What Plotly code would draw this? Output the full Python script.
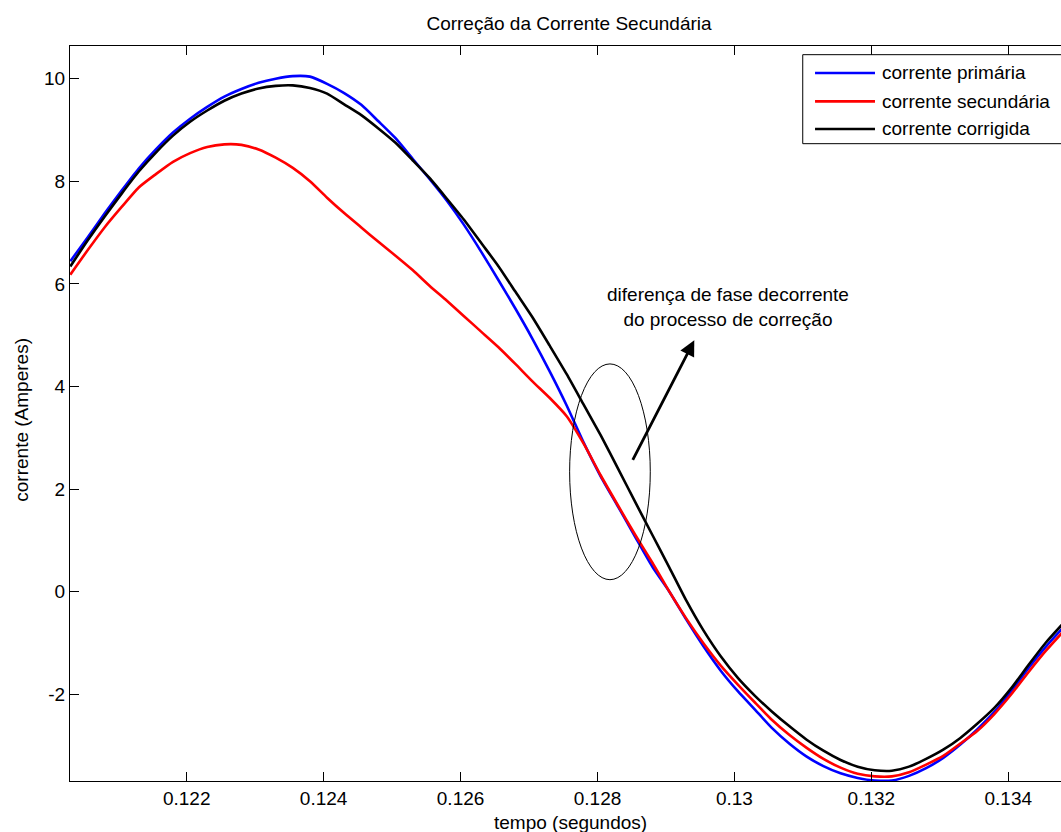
import plotly.graph_objects as go

# Sample instants (s)
tempo = [
    0.12030, 0.12055, 0.12080, 0.12105, 0.12130, 0.12155, 0.12180, 0.12205, 0.12230, 0.12255,
    0.12280, 0.12305, 0.12330, 0.12355, 0.12380, 0.12405, 0.12430, 0.12455, 0.12480, 0.12505,
    0.12530, 0.12555, 0.12580, 0.12605, 0.12630, 0.12655, 0.12680, 0.12705, 0.12730, 0.12755,
    0.12780, 0.12805, 0.12830, 0.12855, 0.12880, 0.12905, 0.12930, 0.12955, 0.12980, 0.13005,
    0.13030, 0.13055, 0.13080, 0.13105, 0.13130, 0.13155, 0.13180, 0.13205, 0.13230, 0.13255,
    0.13280, 0.13305, 0.13330, 0.13355, 0.13380, 0.13405, 0.13430, 0.13455, 0.13480,
]

# Currents (A)
corrente_primaria = [
    6.44, 6.90, 7.37, 7.82, 8.25, 8.62, 8.95, 9.22, 9.45, 9.65,
    9.80, 9.92, 10.00, 10.05, 10.04, 9.90, 9.72, 9.49, 9.17, 8.84,
    8.44, 8.04, 7.62, 7.15, 6.63, 6.08, 5.52, 4.93, 4.30, 3.63,
    2.90, 2.24, 1.66, 1.07, 0.49, 0.00, -0.55, -1.07, -1.54, -1.94,
    -2.30, -2.66, -2.96, -3.21, -3.40, -3.54, -3.63, -3.68, -3.68, -3.59,
    -3.44, -3.24, -2.98, -2.68, -2.34, -1.93, -1.48, -1.07, -0.70,
]

corrente_secundaria = [
    6.18, 6.65, 7.10, 7.50, 7.88, 8.14, 8.38, 8.55, 8.67, 8.72,
    8.71, 8.62, 8.46, 8.26, 8.00, 7.68, 7.38, 7.10, 6.82, 6.55,
    6.27, 5.96, 5.67, 5.37, 5.07, 4.77, 4.44, 4.10, 3.78, 3.42,
    2.88, 2.26, 1.68, 1.11, 0.57, 0.00, -0.53, -1.01, -1.44, -1.81,
    -2.16, -2.50, -2.79, -3.04, -3.26, -3.43, -3.55, -3.60, -3.60, -3.52,
    -3.37, -3.20, -2.96, -2.71, -2.38, -1.99, -1.56, -1.15, -0.78,
]

corrente_corrigida = [
    6.34, 6.84, 7.31, 7.76, 8.19, 8.56, 8.89, 9.16, 9.38, 9.57,
    9.71, 9.81, 9.86, 9.87, 9.82, 9.71, 9.50, 9.29, 9.03, 8.75,
    8.41, 8.06, 7.66, 7.25, 6.80, 6.35, 5.85, 5.35, 4.80, 4.24,
    3.64, 3.04, 2.40, 1.75, 1.11, 0.47, -0.18, -0.76, -1.26, -1.68,
    -2.03, -2.34, -2.62, -2.88, -3.10, -3.28, -3.41, -3.48, -3.49, -3.41,
    -3.26, -3.08, -2.85, -2.57, -2.26, -1.87, -1.42, -0.99, -0.62,
]

series_nomes = ["corrente primária", "corrente secundária", "corrente corrigida"]
series_cores = ["#0000FF", "#FF0000", "#000000"]

x_ticks = [0.122, 0.124, 0.126, 0.128, 0.130, 0.132, 0.134]
x_tick_labels = ["0.122", "0.124", "0.126", "0.128", "0.13", "0.132", "0.134"]
y_ticks = [-2, 0, 2, 4, 6, 8, 10]
y_tick_labels = ["-2", "0", "2", "4", "6", "8", "10"]

FONT = "Liberation Sans, Arial, Helvetica, sans-serif"
FS = 19

fig = go.Figure()
for nome, cor, y in zip(series_nomes, series_cores,
                        [corrente_primaria, corrente_secundaria, corrente_corrigida]):
    fig.add_trace(go.Scatter(x=tempo, y=y, mode="lines", name=nome,
                             line=dict(color=cor, width=2.6, shape="spline", smoothing=0.6),
                             showlegend=False))

# Ellipse marking the phase-shift region
fig.add_shape(type="circle", xref="x", yref="y",
              x0=0.127593, x1=0.128771, y0=0.234, y1=4.44,
              line=dict(color="black", width=1))

# Arrow pointing to the note
fig.add_annotation(x=0.129414, y=4.90, ax=0.128504, ay=2.54,
                   xref="x", yref="y", axref="x", ayref="y",
                   text="", showarrow=True, arrowhead=2, arrowsize=1.1,
                   arrowwidth=2.8, arrowcolor="black")

# Note text
fig.add_annotation(x=0.129899, y=5.54, xref="x", yref="y",
                   text="diferença de fase decorrente<br>do processo de correção",
                   showarrow=False, align="center",
                   font=dict(family=FONT, size=FS, color="black"))

# Legend box drawn in paper space
leg_x0, leg_x1 = 0.7394, 1.05
leg_y0, leg_y1 = 0.8671, 0.9882
fig.add_shape(type="rect", xref="paper", yref="paper",
              x0=leg_x0, x1=leg_x1, y0=leg_y0, y1=leg_y1,
              line=dict(color="black", width=1), fillcolor="white", layer="above")
leg_rows = [0.9633, 0.9246, 0.8871]
for nome, cor, yy in zip(series_nomes, series_cores, leg_rows):
    fig.add_shape(type="line", xref="paper", yref="paper",
                  x0=0.7518, x1=0.8123, y0=yy, y1=yy,
                  line=dict(color=cor, width=2.6), layer="above")
    fig.add_annotation(x=0.8171, y=yy, xref="paper", yref="paper",
                       text=nome, showarrow=False, xanchor="left", yanchor="middle",
                       font=dict(family=FONT, size=FS, color="black"))

# Axis titles
fig.add_annotation(x=(570 - 70) / 991, y=-(822.5 - 781.3) / 735,
                   xref="paper", yref="paper", text="tempo (segundos)",
                   showarrow=False, yanchor="middle",
                   font=dict(family=FONT, size=FS, color="black"))
fig.add_annotation(x=-(70 - 22) / 991, y=(781.3 - 420) / 735,
                   xref="paper", yref="paper", text="corrente (Amperes)",
                   showarrow=False, textangle=-90, xanchor="center", yanchor="middle",
                   font=dict(family=FONT, size=FS, color="black"))

fig.update_layout(
    width=1061, height=832,
    margin=dict(l=70, r=0, t=46, b=51),
    paper_bgcolor="white", plot_bgcolor="white",
    font=dict(family=FONT, size=FS, color="black"),
    title=dict(text="Correção da Corrente Secundária", xref="container", yref="container",
               x=569 / 1061, y=1 - 23 / 832, xanchor="center", yanchor="middle",
               font=dict(family=FONT, size=FS, color="black")),
    xaxis=dict(range=[0.1202955, 0.13477], tickvals=x_ticks, ticktext=x_tick_labels,
               ticks="inside", ticklen=9, tickwidth=1, tickcolor="black",
               showline=True, linecolor="black", linewidth=1.3, mirror="ticks",
               showgrid=False, zeroline=False,
               tickfont=dict(family=FONT, size=FS, color="black")),
    yaxis=dict(range=[-3.690, 10.637], tickvals=y_ticks, ticktext=y_tick_labels,
               ticks="inside", ticklen=9, tickwidth=1, tickcolor="black",
               showline=True, linecolor="black", linewidth=1.3, mirror=False,
               showgrid=False, zeroline=False,
               tickfont=dict(family=FONT, size=FS, color="black")),
)

fig.write_html("out.html")
